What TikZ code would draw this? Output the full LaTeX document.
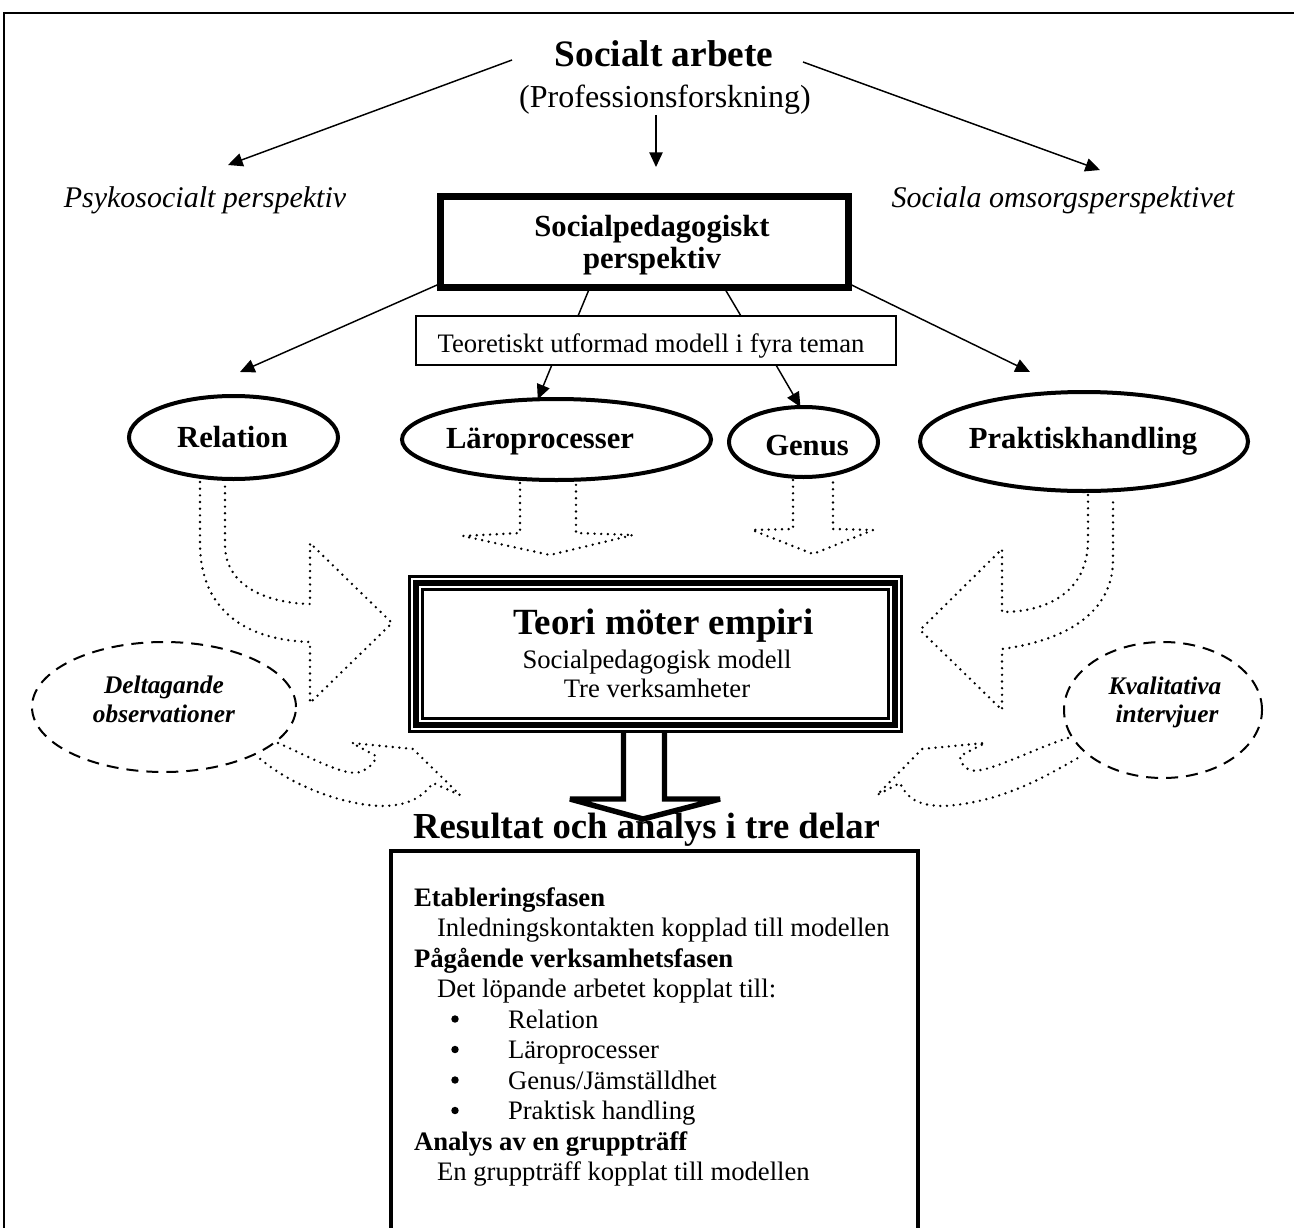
\documentclass[tikz,border=0pt]{standalone}
\usepackage{fontspec}
\setmainfont{Liberation Serif}
\usetikzlibrary{arrows.meta,shapes.geometric,calc}
\newcommand\fs[1]{\fontsize{#1}{#1}\selectfont}
\begin{document}
\begin{tikzpicture}[x=0.75pt,y=-0.75pt,
  txt/.style={inner sep=0pt,outer sep=0pt},
  arr/.style={line width=1.1pt,-{Triangle[length=11pt,width=10pt]}},
  thinl/.style={line width=1.1pt},
  dotl/.style={line width=2pt,line cap=round,line join=round,dash pattern=on 0pt off 5pt},
  dashl/.style={line width=1.5pt,dash pattern=on 9pt off 6pt},
  ell/.style={ellipse,draw,line width=3pt,inner sep=0pt,outer sep=0pt},
  dell/.style={ellipse,draw,dashl,inner sep=0pt,outer sep=0pt},
  restxt/.style={txt,anchor=base west,font=\fs{20pt}},
  reshead/.style={txt,anchor=base west,font=\bfseries\fs{20pt}},
  bul/.style={circle,fill,inner sep=0pt,outer sep=0pt,minimum size=5.6pt},
]
\useasboundingbox (0,0) rectangle (1294,1227);
\clip (0,0) rectangle (1294,1227);
\fill[white] (0,0) rectangle (1294,1227);
% outer frame
\draw[line width=1.9pt] (4,1240) -- (4,13) -- (1300,13);

% top
\node[txt,anchor=base,font=\bfseries\fs{28pt}] (title) at (664,67) {Socialt arbete};
\node[txt,anchor=base,font=\fs{24pt}] (prof) at (665,108) {(Professionsforskning)};
\node[txt,anchor=base,font=\itshape\fs{22.5pt}] (psyk) at (205,207) {Psykosocialt perspektiv};
\node[txt,anchor=base,font=\itshape\fs{22.5pt}] (omsorg) at (1063,207) {Sociala omsorgsperspektivet};
\coordinate (t1) at (512,60);
\coordinate (t2) at (228,165);
\coordinate (t3) at (803,62);
\coordinate (t4) at (1100,170);
\coordinate (spd) at (656,167);
\draw[arr] (t1) -- (t2);
\draw[arr] (t3) -- (t4);
\draw[arr] (prof.south -| spd) -- (spd);

% socialpedagogiskt box
\node[draw,line width=5.25pt,minimum width=306pt,minimum height=68.6pt,inner sep=0pt,outer sep=0pt] (sp) at (644.5,241.75) {};
\node[txt,anchor=base,font=\bfseries\fs{23pt}] (spt1) at (652,236) {Socialpedagogiskt};
\node[txt,anchor=base,font=\bfseries\fs{23pt}] (spt2) at (652,268) {perspektiv};

% teoretiskt box
\node[draw,line width=1.1pt,minimum width=360pt,minimum height=36.75pt,inner sep=0pt,outer sep=0pt] (teo) at (656,340.5) {};
\node[txt,anchor=base,font=\fs{20pt}] (teot) at (651,352) {Teoretiskt utformad modell i fyra teman};

% ellipses
\node[ell,minimum width=156.75pt,minimum height=62.25pt] (rel) at (233.5,437.5) {};
\node[ell,minimum width=231.75pt,minimum height=60.75pt] (laro) at (556.5,439.5) {};
\node[ell,minimum width=111.75pt,minimum height=52.5pt] (genus) at (803.5,442) {};
\node[ell,minimum width=246pt,minimum height=74.25pt] (prak) at (1084,441.5) {};
\node[txt,anchor=base,font=\bfseries\fs{23pt}] (relt) at (232.5,447) {Relation};
\node[txt,anchor=base,font=\bfseries\fs{23pt}] (larot) at (540,448) {Läroprocesser};
\node[txt,anchor=base,font=\bfseries\fs{23pt}] (genust) at (807,455) {Genus};
\node[txt,anchor=base,font=\bfseries\fs{23pt}] (prakt) at (1083,448) {Praktiskhandling};

% connectors
\coordinate (rl) at (240,372);
\coordinate (rr) at (1030,372);
\draw[arr] ($(sp.south west)+(0,-4)$) -- (rl);
\draw[arr] ($(sp.south east)+(0,-4)$) -- (rr);
\draw[thinl] ($(sp.south west)!0.366!(sp.south east)$) -- ($(teo.north west)!0.3375!(teo.north east)$);
\draw[thinl] ($(sp.south west)!0.695!(sp.south east)$) -- ($(teo.north west)!0.677!(teo.north east)$);
\draw[arr] ($(teo.south west)!0.283!(teo.south east)$) -- (laro.115);
\draw[arr] ($(teo.south west)!0.75!(teo.south east)$) -- (genus.95);

% dotted block arrows
\draw[dotl] (200,482) -- (200,545) .. controls (201,610) and (245,640) .. (310,642)
  -- (310,703) -- (392,623) -- (310,543) -- (310,604)
  .. controls (265,603) and (225,585) .. (225,545) -- (225,482);
\draw[dotl] (1088,495) -- (1088,540) .. controls (1088,590) and (1050,612) .. (1002,612)
  -- (1002,549) -- (920,630) -- (1002,710) -- (1002,649)
  .. controls (1070,640) and (1113,610) .. (1113,560) -- (1113,497);
\draw[dotl] (520,483) -- (520,533) -- (463,536) -- (550,555) -- (633,535) -- (576,533) -- (576,483);
\draw[dotl] (793,480) -- (793,529) -- (752,530) -- (813,554) -- (873,530) -- (833,529) -- (833,480);

% teori box
\draw[line width=4.1pt,fill=white,miter limit=6] (623.5,731) -- (623.5,799) -- (570,799) -- (643,819) -- (720,799) -- (664.5,799) -- (664.5,731);
\node[draw,line width=4.7pt,minimum width=359.25pt,minimum height=106.5pt,inner sep=0pt,outer sep=0pt,fill=white] (teori) at (655.5,654) {};
\draw[line width=2.5pt] ($(teori.north west)+(-6.3,-6.3)$) rectangle ($(teori.south east)+(6.3,6.3)$);
\draw[line width=2pt] ($(teori.north west)+(6.8,6.8)$) rectangle ($(teori.south east)+(-6.8,-6.8)$);
\node[txt,anchor=base,font=\bfseries\fs{27.7pt}] (teorit) at (663.5,634) {Teori möter empiri};
\node[txt,anchor=base,font=\fs{20pt}] (teori2) at (657,668) {Socialpedagogisk modell};
\node[txt,anchor=base,font=\fs{20pt}] (teori3) at (657,697) {Tre verksamheter};

% dashed ellipses
\node[dell,minimum width=198pt,minimum height=97.5pt] (delt) at (164,707) {};
\node[txt,anchor=base,font=\bfseries\itshape\fs{19pt}] (delt1) at (164,693) {Deltagande};
\node[txt,anchor=base,font=\bfseries\itshape\fs{19pt}] (delt2) at (164,722) {observationer};
\node[dell,minimum width=148.5pt,minimum height=102pt] (kval) at (1163,710) {};
\node[txt,anchor=base,font=\bfseries\itshape\fs{19pt}] (kval1) at (1165,694) {Kvalitativa};
\node[txt,anchor=base,font=\bfseries\itshape\fs{19pt}] (kval2) at (1167,722) {intervjuer};

% lower dotted arrows
\draw[dotl] (278,743) .. controls (310,757) and (345,777) .. (360,772)
  .. controls (372,767) and (376,760) .. (376,756) -- (352,743) -- (413,749) -- (460,795) -- (433,783)
  .. controls (420,800) and (405,806) .. (380,806) .. controls (340,804) and (290,785) .. (258,757);
\draw[dotl] (1068,738) .. controls (1030,750) and (985,775) .. (970,770)
  .. controls (962,767) and (960,760) .. (960,756) -- (985,743) -- (922,749) -- (877,795) -- (900,783)
  .. controls (908,800) and (920,806) .. (945,806) .. controls (1000,802) and (1040,780) .. (1083,755);

% result
\node[txt,anchor=base,font=\bfseries\fs{27.5pt}] (rest) at (646.5,838) {Resultat och analys i tre delar};
\draw[line width=3pt] (391,1260) -- (391,851) -- (918,851) -- (918,1260);
\node[reshead] (r1) at (414,906) {Etableringsfasen};
\node[restxt] (r2) at (437,936.5) {Inledningskontakten kopplad till modellen};
\node[reshead] (r3) at (414,967) {Pågående verksamhetsfasen};
\node[restxt] (r4) at (437,997.5) {Det löpande arbetet kopplat till:};
\node[bul] (b1) at (455,1019) {};
\node[restxt] (r5) at (508,1028) {Relation};
\node[bul] (b2) at (455,1049.5) {};
\node[restxt] (r6) at (508,1058.5) {Läroprocesser};
\node[bul] (b3) at (455,1080) {};
\node[restxt] (r7) at (508,1089) {Genus/Jämställdhet};
\node[bul] (b4) at (455,1110.5) {};
\node[restxt] (r8) at (508,1119.5) {Praktisk handling};
\node[reshead] (r9) at (414,1150) {Analys av en gruppträff};
\node[restxt] (r10) at (437,1180.5) {En gruppträff kopplat till modellen};
\end{tikzpicture}
\end{document}
